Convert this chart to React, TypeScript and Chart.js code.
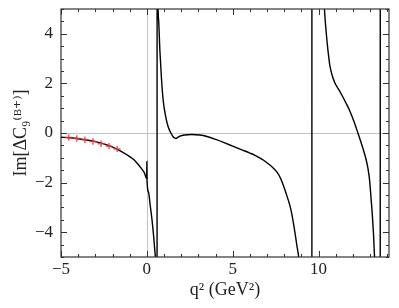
import React, { useEffect, useRef } from 'react';
import { Chart, registerables } from 'chart.js';

Chart.register(...registerables);

// Theory curve Im[ΔC9] vs q² (large values = off-scale poles)
const curveQ2 = [
  -5, -4.5, -4, -3.5, -3, -2.5, -2, -1.5, -1, -0.75, -0.5, -0.3, -0.15, -0.01, 0, 0.01,
  0.1, 0.2, 0.3, 0.4, 0.5, 0.56, 0.59,
  0.6, 0.64, 0.68, 0.76, 0.85, 0.95, 1.1, 1.24, 1.4, 1.53, 1.62, 1.69, 1.8, 1.92, 2.2, 2.6,
  3.08, 3.5, 4.05, 4.5, 5.0, 5.5, 6.0, 6.3, 6.57, 6.8, 7.05, 7.34, 7.6, 7.8, 7.94, 8.1, 8.33, 8.45, 8.62,
  8.75, 8.84, 9.0, 9.3, 9.6,
  9.62, 10.0, 10.2, 10.35, 10.45, 10.55, 10.65, 10.78, 10.95, 11.1, 11.22, 11.4, 11.6,
  11.8, 12.05, 12.29, 12.45, 12.6, 12.77, 12.88, 12.97, 13.06, 13.13, 13.2, 13.26, 13.4, 13.58,
  13.6, 14.1,
];
const curveIm = [
  -0.17, -0.19, -0.23, -0.28, -0.35, -0.44, -0.57, -0.74, -0.95, -1.08, -1.27, -1.45, -1.6, -1.84, -1.15, -1.92,
  -2.4, -2.95, -3.5, -4.2, -5.0, -7, -30,
  30, 6.0, 4.6, 3.3, 2.2, 1.32, 0.65, 0.25, 0.0, -0.15, -0.2, -0.22, -0.18, -0.13, -0.08, -0.06,
  -0.08, -0.14, -0.27, -0.39, -0.53, -0.67, -0.81, -0.9, -1.0, -1.1, -1.23, -1.4, -1.6, -1.85, -2.1, -2.42, -2.93, -3.3, -4.0,
  -4.6, -5.0, -6.5, -12, -200,
  200, 15, 7, 4.9, 4.0, 3.3, 2.75, 2.35, 2.02, 1.83, 1.7, 1.47, 1.2,
  0.92, 0.48, 0.0, -0.33, -0.66, -1.08, -1.45, -1.9, -2.68, -3.3, -4.1, -5.0, -12, -200,
  200, 60,
];

// Red data points with error bars
const pointsQ2 = [-4.55, -4.08, -3.61, -3.14, -2.67, -2.2, -1.73];
const pointsIm = [-0.18, -0.22, -0.27, -0.34, -0.43, -0.53, -0.64];
const pointsErr = [0.13, 0.13, 0.13, 0.13, 0.13, 0.13, 0.13];

const xMajorTicks = [-5, 0, 5, 10];
const yMajorTicks = [-4, -2, 0, 2, 4];
const xMin = -5;
const xMax = 14.1;
const yMin = -5;
const yMax = 5;
const xMinorStep = 1;
const yMinorStep = 0.5;

const FONT = "'Liberation Serif', 'DejaVu Serif', serif";
const POINT_COLOR = 'rgba(232, 55, 55, 0.75)';

const fmt = (v: number) => (v < 0 ? '\u2212' + Math.abs(v) : String(v));

const decorPlugin = {
  id: 'decor',
  beforeDatasetsDraw(chart: any) {
    const { ctx, chartArea: a, scales } = chart;
    const x = scales.x, y = scales.y;
    ctx.save();
    ctx.strokeStyle = '#c4c4c4';
    ctx.lineWidth = 1;
    const y0 = Math.round(y.getPixelForValue(0)) + 0.5;
    const x0 = Math.round(x.getPixelForValue(0)) + 0.5;
    ctx.beginPath();
    ctx.moveTo(a.left, y0);
    ctx.lineTo(a.right, y0);
    ctx.moveTo(x0, a.top);
    ctx.lineTo(x0, a.bottom);
    ctx.stroke();
    ctx.restore();
  },
  afterDatasetsDraw(chart: any) {
    const { ctx, scales } = chart;
    const x = scales.x, y = scales.y;
    ctx.save();
    ctx.strokeStyle = POINT_COLOR;
    ctx.lineWidth = 1.6;
    ctx.beginPath();
    pointsQ2.forEach((q, i) => {
      const px = x.getPixelForValue(q);
      ctx.moveTo(px, y.getPixelForValue(pointsIm[i] + pointsErr[i]));
      ctx.lineTo(px, y.getPixelForValue(pointsIm[i] - pointsErr[i]));
    });
    ctx.stroke();
    ctx.restore();
  },
  afterDraw(chart: any) {
    const { ctx, chartArea: a, scales } = chart;
    const x = scales.x, y = scales.y;
    ctx.save();
    ctx.strokeStyle = '#333';
    ctx.lineWidth = 1;
    ctx.beginPath();
    const major = 6, minor = 3;
    for (let v = Math.ceil(xMin / xMinorStep) * xMinorStep; v <= xMax + 1e-9; v += xMinorStep) {
      const isMajor = xMajorTicks.some((t) => Math.abs(t - v) < 1e-6);
      const len = isMajor ? major : minor;
      const px = Math.round(x.getPixelForValue(v)) + 0.5;
      ctx.moveTo(px, a.bottom);
      ctx.lineTo(px, a.bottom - len);
      ctx.moveTo(px, a.top);
      ctx.lineTo(px, a.top + len);
    }
    for (let v = yMin; v <= yMax + 1e-9; v += yMinorStep) {
      const isMajor = yMajorTicks.some((t) => Math.abs(t - v) < 1e-6);
      const len = isMajor ? major : minor;
      const py = Math.round(y.getPixelForValue(v)) + 0.5;
      ctx.moveTo(a.left, py);
      ctx.lineTo(a.left + len, py);
      ctx.moveTo(a.right, py);
      ctx.lineTo(a.right - len, py);
    }
    ctx.stroke();
    ctx.lineWidth = 1.2;
    ctx.strokeRect(a.left, a.top, a.right - a.left, a.bottom - a.top);
    ctx.restore();
  },
};

export default function App() {
  const ref = useRef<HTMLCanvasElement | null>(null);
  useEffect(() => {
    if (!ref.current) return;
    const curve = curveQ2.map((q, i) => ({ x: q, y: curveIm[i] }));
    const pts = pointsQ2.map((q, i) => ({ x: q, y: pointsIm[i] }));
    const chart = new Chart(ref.current, {
      type: 'scatter',
      data: {
        datasets: [
          {
            label: 'data',
            data: pts,
            showLine: false,
            pointStyle: 'line',
            pointRadius: 3.5,
            pointBorderWidth: 1.6,
            pointBorderColor: POINT_COLOR,
            pointBackgroundColor: POINT_COLOR,
            borderColor: POINT_COLOR,
            order: 0,
          },
          {
            label: 'curve',
            data: curve,
            showLine: true,
            pointRadius: 0,
            borderColor: '#000',
            borderWidth: 1.4,
            cubicInterpolationMode: 'monotone',
            order: 1,
          },
        ],
      },
      options: {
        responsive: false,
        animation: false,
        devicePixelRatio: 1,
        layout: { padding: { top: 9, right: 10, left: 0, bottom: 0 } },
        plugins: { legend: { display: false }, tooltip: { enabled: false } },
        scales: {
          x: {
            type: 'linear',
            min: xMin,
            max: xMax,
            grid: { display: false, drawTicks: false },
            border: { display: false },
            afterBuildTicks: (s: any) => {
              s.ticks = xMajorTicks.map((v) => ({ value: v }));
            },
            afterFit: (s: any) => {
              s.height = 51;
              s.paddingLeft = 0;
              s.paddingRight = 0;
            },
            ticks: {
              padding: 2,
              maxRotation: 0,
              autoSkip: false,
              color: '#222',
              font: { family: FONT, size: 17 },
              callback: (v: any) => fmt(Number(v)),
            },
            title: {
              display: true,
              text: 'q\u00B2 (GeV\u00B2)',
              color: '#222',
              font: { family: FONT, size: 18 },
              padding: { top: 0, bottom: 7 },
            },
          },
          y: {
            type: 'linear',
            min: yMin,
            max: yMax,
            grid: { display: false, drawTicks: false },
            border: { display: false },
            afterBuildTicks: (s: any) => {
              s.ticks = yMajorTicks.map((v) => ({ value: v }));
            },
            afterFit: (s: any) => {
              s.width = 61;
              s.paddingTop = 0;
              s.paddingBottom = 0;
            },
            ticks: {
              padding: 8,
              autoSkip: false,
              color: '#222',
              font: { family: FONT, size: 17 },
              callback: (v: any) => fmt(Number(v)),
            },
            title: {
              display: true,
              text: 'Im[\u0394C\u2089\u207D\u1D2E\u207A\u207E]',
              color: '#222',
              font: { family: FONT, size: 18 },
              padding: { top: 10, bottom: 0 },
            },
          },
        },
      },
      plugins: [decorPlugin],
    });
    return () => chart.destroy();
  }, []);
  return (
    <div style={{ position: 'fixed', left: 0, top: 0, width: 399, height: 308, background: '#fff' }}>
      <canvas ref={ref} width={399} height={308} style={{ display: 'block' }} />
    </div>
  );
}
